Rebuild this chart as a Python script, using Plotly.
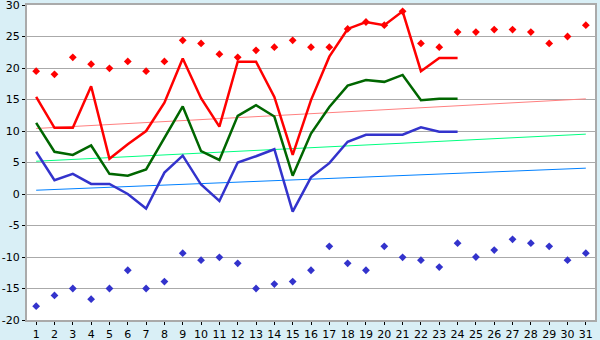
import plotly.graph_objects as go

days = list(range(1, 32))
line_days = list(range(1, 25))

red_line = [15.4, 10.5, 10.5, 17.1, 5.6, 7.9, 10.0, 14.5, 21.5, 15.2, 10.7, 21.0,
            21.0, 15.4, 6.2, 14.9, 21.8, 26.2, 27.3, 26.8, 29.0, 19.5, 21.6, 21.6]
green_line = [11.3, 6.7, 6.2, 7.7, 3.2, 2.9, 3.9, 9.0, 13.9, 6.8, 5.4, 12.4,
              14.1, 12.3, 2.9, 9.6, 13.8, 17.2, 18.1, 17.8, 18.9, 14.9, 15.1, 15.1]
blue_line = [6.7, 2.2, 3.2, 1.6, 1.6, 0.0, -2.3, 3.4, 6.1, 1.5, -1.1, 5.0,
             6.0, 7.1, -2.8, 2.65, 4.9, 8.3, 9.4, 9.4, 9.4, 10.6, 9.9, 9.9]

red_dots = [19.5, 19.0, 21.7, 20.6, 19.95, 21.05, 19.5, 21.05, 24.4, 23.9, 22.2, 21.7,
            22.8, 23.3, 24.4, 23.3, 23.3, 26.2, 27.3, 26.8, 29.0, 23.9, 23.3, 25.7,
            25.7, 26.1, 26.1, 25.7, 23.9, 25.0, 26.8]
blue_dots = [-17.8, -16.1, -15.0, -16.7, -15.0, -12.1, -15.0, -13.9, -9.4, -10.5, -10.05, -11.0,
             -15.0, -14.3, -13.9, -12.1, -8.3, -11.0, -12.1, -8.3, -10.05, -10.5, -11.6, -7.8,
             -10.0, -8.9, -7.2, -7.8, -8.3, -10.5, -9.4]

trend_x = [1, 31]
trend_red = [10.4, 15.1]
trend_green = [5.2, 9.5]
trend_blue = [0.6, 4.1]

y_ticks = list(range(-20, 31, 5))

fig = go.Figure()

fig.add_trace(go.Scatter(x=trend_x, y=trend_red, mode="lines",
                         line=dict(color="#ff8080", width=1), hoverinfo="skip"))
fig.add_trace(go.Scatter(x=trend_x, y=trend_green, mode="lines",
                         line=dict(color="#00ff80", width=1), hoverinfo="skip"))
fig.add_trace(go.Scatter(x=trend_x, y=trend_blue, mode="lines",
                         line=dict(color="#0080ff", width=1), hoverinfo="skip"))

fig.add_trace(go.Scatter(x=days, y=red_dots, mode="markers",
                         marker=dict(color="#ff0000", symbol="diamond", size=6)))
fig.add_trace(go.Scatter(x=days, y=blue_dots, mode="markers",
                         marker=dict(color="#3333cc", symbol="diamond", size=6)))

fig.add_trace(go.Scatter(x=line_days, y=red_line, mode="lines",
                         line=dict(color="#ff0000", width=2.5)))
fig.add_trace(go.Scatter(x=line_days, y=green_line, mode="lines",
                         line=dict(color="#006600", width=2.5)))
fig.add_trace(go.Scatter(x=line_days, y=blue_line, mode="lines",
                         line=dict(color="#3333cc", width=2.5)))

fig.update_layout(
    width=600, height=340,
    margin=dict(l=27, r=5, t=5, b=20),
    paper_bgcolor="#d9eff6",
    plot_bgcolor="#ffffff",
    showlegend=False,
    font=dict(family="DejaVu Sans", size=11, color="#000000"),
)
fig.update_xaxes(
    range=[0.5, 31.5], tickmode="array", tickvals=days, ticktext=[str(d) for d in days],
    showgrid=False, zeroline=False, showline=True, linecolor="#aaaaaa", linewidth=2,
    mirror=True, ticks="outside", ticklen=3, tickcolor="#000000", tickwidth=1,
    tickfont=dict(size=11), automargin=False, ticklabeloverflow="allow",
)
fig.update_yaxes(
    range=[-20, 30], tickmode="array", tickvals=y_ticks, ticktext=[str(v) for v in y_ticks],
    showgrid=True, gridcolor="#aaaaaa", gridwidth=1, zeroline=False,
    showline=True, linecolor="#aaaaaa", linewidth=2, mirror=True,
    ticks="outside", ticklen=3, tickcolor="#000000", tickfont=dict(size=11),
    automargin=False, ticklabeloverflow="allow",
)

fig.write_html("out.html")
